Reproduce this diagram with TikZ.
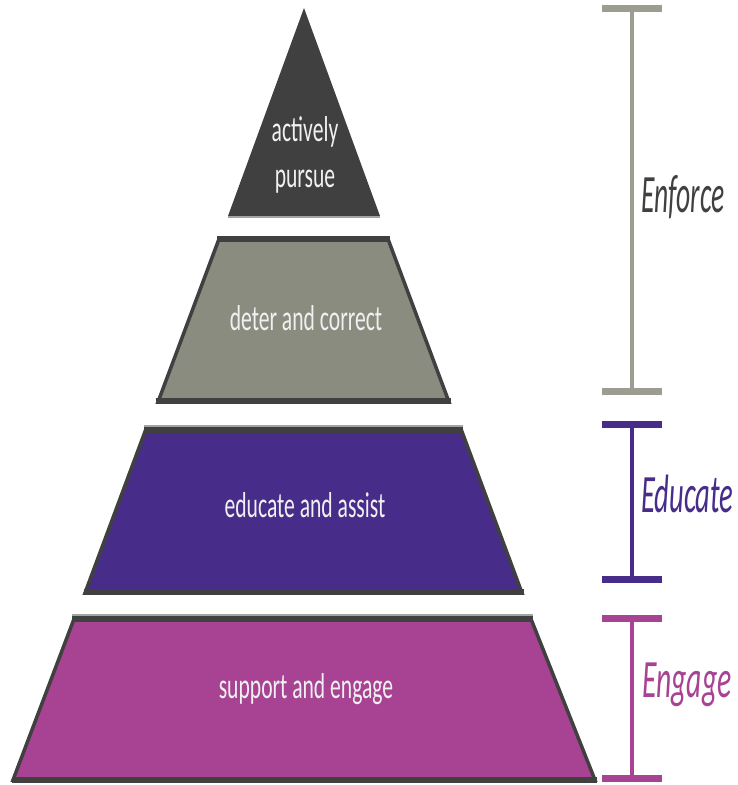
\documentclass[tikz,border=0pt]{standalone}
\usepackage{fontspec}
\setmainfont{Carlito}
\usepackage{graphicx}
\definecolor{dark}{HTML}{404040}
\definecolor{lightedge}{HTML}{A3A3A3}
\definecolor{grayfill}{HTML}{8B8C80}
\definecolor{purp}{HTML}{472D89}
\definecolor{mag}{HTML}{A84394}
\definecolor{brgray}{HTML}{9C9C90}
\definecolor{txt}{HTML}{F0F0F0}
\newcommand{\sqz}[2][0.6]{\scalebox{#1}[1]{#2}}
\tikzset{
  tier/.style={draw=dark, line width=3.5pt, line join=miter},
  band/.style={dark, line width=6pt},
  topedge/.style={lightedge, line width=2.5pt},
  intext/.style={text=txt, font=\fontsize{36}{36}\selectfont, anchor=base, inner sep=0pt},
  brlabel/.style={font=\fontsize{54}{54}\selectfont\itshape, anchor=base west, inner sep=0pt},
  barline/.style={line width=7pt},
  stemline/.style={line width=3.5pt}
}
\begin{document}
\begin{tikzpicture}[x=1pt,y=-1pt]
\useasboundingbox[fill=white] (0,0) rectangle (738,785);

% ---- apex triangle
\coordinate (tA) at (304,8);
\coordinate (tL) at (228,216);
\coordinate (tR) at (380,216);
\fill[dark] (tA) -- (tR) -- (tL) -- cycle;
\draw[lightedge, line width=2pt] (228,217) -- (380,217);
\node[intext] (t1) at (305,141) {\sqz{actively}};
\node[intext] (t2) at (305,187) {\sqz{pursue}};

% ---- gray tier
\coordinate (gTL) at (219,239);
\coordinate (gTR) at (388,239);
\coordinate (gBR) at (449,402);
\coordinate (gBL) at (158,402);
\draw[tier, fill=grayfill] (gTL) -- (gTR) -- (gBR) -- (gBL) -- cycle;
\draw[band] (217,239) -- (390,239);
\draw[band] (156,401) -- (451,401);
\node[intext] (g1) at (306,330) {\sqz{deter and correct}};

% ---- purple tier
\coordinate (pTL) at (146,429);
\coordinate (pTR) at (461,429);
\coordinate (pBR) at (522,593);
\coordinate (pBL) at (85,593);
\draw[tier, fill=purp] (pTL) -- (pTR) -- (pBR) -- (pBL) -- cycle;
\draw[topedge] (144,426) -- (463,426);
\draw[band] (144,430) -- (463,430);
\draw[band] (84,592) -- (524,592);
\node[intext] (p1) at (305,517) {\sqz{educate and assist}};

% ---- magenta tier
\coordinate (mTL) at (74,619);
\coordinate (mTR) at (531,619);
\coordinate (mBR) at (595,780);
\coordinate (mBL) at (13,780);
\draw[tier, fill=mag] (mTL) -- (mTR) -- (mBR) -- (mBL) -- cycle;
\draw[topedge] (72,615) -- (533,615);
\draw[band] (72,619) -- (533,619);
\draw[band] (12,780) -- (597,780);
\node[intext] (m1) at (306,698) {\sqz{support and engage}};

% ---- Enforce bracket
\coordinate (e1L) at (602,8);
\coordinate (e1R) at (662,8);
\coordinate (e2L) at (602,391);
\coordinate (e2R) at (662,391);
\coordinate (e1) at (632,8);
\coordinate (e2) at (632,391);
\draw[brgray, barline] (e1L) -- (e1R);
\draw[brgray, barline] (e2L) -- (e2R);
\draw[brgray, stemline] (e1) -- (e2);
\node[brlabel, text=dark] (lEnf) at (641,212) {\sqz[0.51]{Enforce}};

% ---- Educate bracket
\coordinate (d1L) at (602,424);
\coordinate (d1R) at (662,424);
\coordinate (d2L) at (602,579);
\coordinate (d2R) at (662,579);
\coordinate (d1) at (632,424);
\coordinate (d2) at (632,579);
\draw[purp, barline] (d1L) -- (d1R);
\draw[purp, barline] (d2L) -- (d2R);
\draw[purp, stemline] (d1) -- (d2);
\node[brlabel, text=purp] (lEdu) at (641,512) {\sqz[0.53]{Educate}};

% ---- Engage bracket
\coordinate (g1L) at (602,618);
\coordinate (g1R) at (662,618);
\coordinate (g2L) at (602,778);
\coordinate (g2R) at (662,778);
\coordinate (gg1) at (632,618);
\coordinate (gg2) at (632,778);
\draw[mag, barline] (g1L) -- (g1R);
\draw[mag, barline] (g2L) -- (g2R);
\draw[mag, stemline] (gg1) -- (gg2);
\node[brlabel, text=mag] (lEng) at (642,697) {\sqz[0.55]{Engage}};
\end{tikzpicture}
\end{document}
